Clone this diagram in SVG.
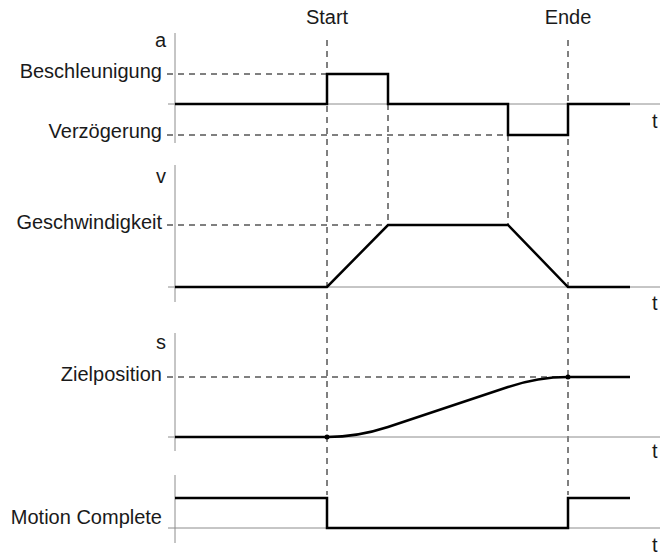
<svg xmlns="http://www.w3.org/2000/svg" width="664" height="555" viewBox="0 0 664 555">
<style>
text{font-family:"Liberation Sans",Arial,sans-serif;font-size:20px;fill:#1a1a1a}
.lbl{text-anchor:end}
.mid{text-anchor:middle}
.ax{stroke:#8c8c8c;stroke-width:1;fill:none}
.sig{stroke:#000;stroke-width:2.5;fill:none;stroke-linejoin:miter}
.dash{stroke:#000;stroke-width:1;fill:none;stroke-dasharray:6 5}
</style>
<rect width="664" height="555" fill="#fff"/>
<g id="markers">
<text class="mid" x="327" y="24">Start</text>
<text class="mid" x="568" y="24">Ende</text>
</g>
<g id="connectors">
<path class="dash" d="M327,40 V495 M568,40 V495 M388,104 V225 M508,135 V225"/>
<path class="dash" d="M167,74 H327 M167,135 H508 M167,225 H388 M167,377 H568"/>
</g>
<g id="panel-a">
<path class="ax" d="M175,33 V143 M168,104 H660"/>
<text class="lbl" x="166" y="47">a</text>
<text class="lbl" x="162" y="78">Beschleunigung</text>
<text class="lbl" x="162" y="138">Verzögerung</text>
<text x="652" y="128">t</text>
<path class="sig" d="M175,104 H327 V74 H388 V104 H508 V135 H568 V104 H630"/>
</g>
<g id="panel-v">
<path class="ax" d="M175,165 V302 M168,287 H660"/>
<text class="lbl" x="166" y="183">v</text>
<text class="lbl" x="162" y="229">Geschwindigkeit</text>
<text x="652" y="310">t</text>
<path class="sig" d="M175,287 H327 L388,225 H508 L568,287 H630"/>
</g>
<g id="panel-s">
<path class="ax" d="M175,333 V451 M168,437 H660"/>
<text class="lbl" x="166" y="349">s</text>
<text class="lbl" x="162" y="381">Zielposition</text>
<text x="652" y="458">t</text>
<path class="sig" d="M175,437 H327 Q357.5,437 388,427 L508,387 Q538,377 568,377 H630"/>
<circle cx="327" cy="437" r="2.5" fill="#000"/>
<circle cx="568" cy="377" r="2.5" fill="#000"/>
</g>
<g id="panel-mc">
<path class="ax" d="M175,475 V543 M168,528 H660"/>
<text class="lbl" x="162" y="524">Motion Complete</text>
<text x="652" y="552">t</text>
<path class="sig" d="M175,498 H327 V528 H568 V498 H630"/>
</g>
</svg>
